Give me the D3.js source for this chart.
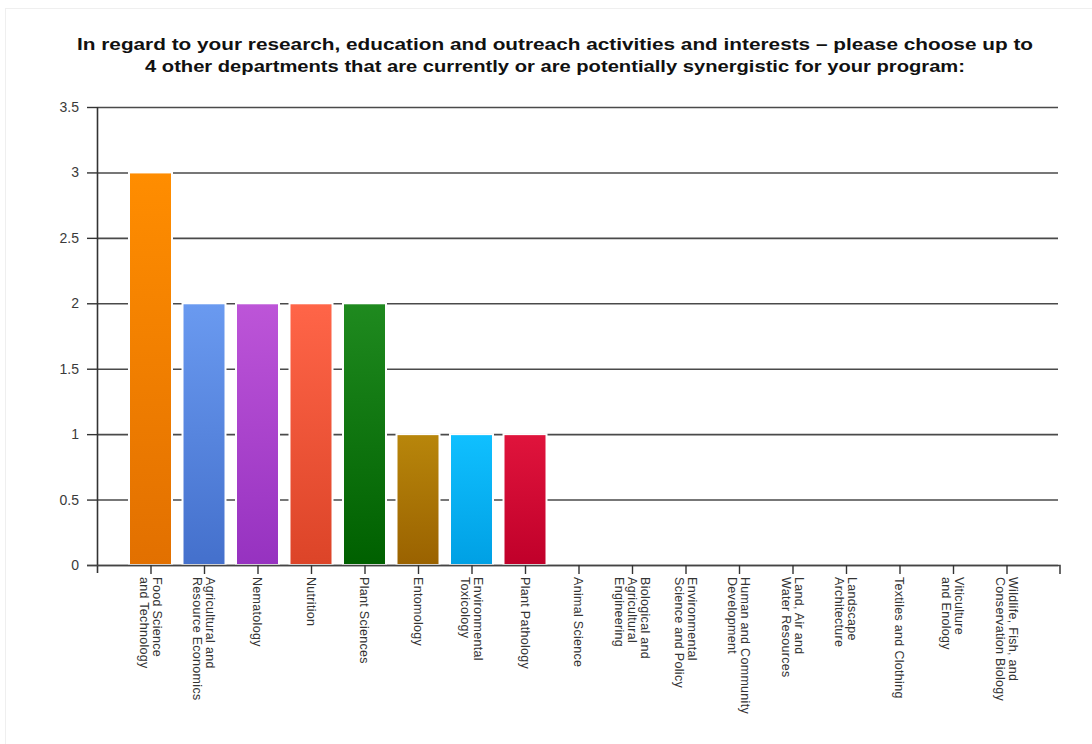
<!DOCTYPE html>
<html>
<head>
<meta charset="utf-8">
<script src="https://cdn.jsdelivr.net/npm/d3@7"></script>
<style>
  html, body { margin: 0; padding: 0; background: #fff; }
  svg { display: block; }
</style>
</head>
<body>
<svg id="chart" width="1092" height="744"></svg>
<script>
// Departments surveyed and number of responses naming each one
const categories = [
  "Food Science and Technology",
  "Agricultural and Resource Economics",
  "Nematology",
  "Nutrition",
  "Plant Sciences",
  "Entomology",
  "Environmental Toxicology",
  "Plant Pathology",
  "Animal Science",
  "Biological and Agricultural Engineering",
  "Environmental Science and Policy",
  "Human and Community Development",
  "Land, Air and Water Resources",
  "Landscape Architecture",
  "Textiles and Clothing",
  "Viticulture and Enology",
  "Wildlife, Fish, and Conservation Biology"
];
const responses = [3, 2, 2, 2, 2, 1, 1, 1, 0, 0, 0, 0, 0, 0, 0, 0, 0];

// Wrapped axis labels, one inner list per department
const tickLabels = [
  ["Food Science", "and Technology"],
  ["Agricultural and", "Resource Economics"],
  ["Nematology"],
  ["Nutrition"],
  ["Plant Sciences"],
  ["Entomology"],
  ["Environmental", "Toxicology"],
  ["Plant Pathology"],
  ["Animal Science"],
  ["Biological and", "Agricultural", "Engineering"],
  ["Environmental", "Science and Policy"],
  ["Human and Community", "Development"],
  ["Land, Air and", "Water Resources"],
  ["Landscape", "Architecture"],
  ["Textiles and Clothing"],
  ["Viticulture", "and Enology"],
  ["Wildlife, Fish, and", "Conservation Biology"]
];
const yTicks = [0, 0.5, 1, 1.5, 2, 2.5, 3, 3.5];
const titleLines = [
  "In regard to your research, education and outreach activities and interests \u2013 please choose up to",
  "4 other departments that are currently or are potentially synergistic for your program:"
];

// Bar fills: [top, bottom] of each vertical gradient
const palette = [
  ["#ff8d00", "#e27000"],
  ["#6a9af0", "#4470cc"],
  ["#bd55d8", "#9632c0"],
  ["#ff6548", "#dc4428"],
  ["#1f8a1f", "#006000"],
  ["#b8860b", "#9a6200"],
  ["#10c0ff", "#00a0e4"],
  ["#e0143c", "#c0002a"]
];

const svg = d3.select("#chart");
const plotLeft = 97, plotRight = 1060, plotTop = 107, plotBottom = 565;

// faint panel frame
svg.append("rect")
  .attr("x", 5.5).attr("y", 8.5).attr("width", 1100).attr("height", 800)
  .attr("fill", "#fff").attr("stroke", "#efefef").attr("stroke-width", 1);

const x = d3.scalePoint().domain(categories).range([plotLeft, plotRight]).padding(1);
const y = d3.scaleLinear().domain([0, 3.5]).range([plotBottom, plotTop]);
const barW = 43;

// title, stretched to the width of the plot header
const titleWidths = [956, 820];
svg.append("g").selectAll("text").data(titleLines).join("text")
  .attr("x", 555).attr("y", (d, i) => 50 + i * 21.5)
  .attr("text-anchor", "middle")
  .attr("font-family", "Liberation Sans, Arial, sans-serif")
  .attr("font-weight", "bold").attr("font-size", 16.5)
  .attr("textLength", (d, i) => titleWidths[i])
  .attr("lengthAdjust", "spacingAndGlyphs")
  .attr("fill", "#111")
  .text(d => d);

// gradients
const defs = svg.append("defs");
palette.forEach((c, i) => {
  const g = defs.append("linearGradient").attr("id", "grad" + i)
    .attr("x1", 0).attr("y1", 0).attr("x2", 0).attr("y2", 1);
  g.append("stop").attr("offset", "0%").attr("stop-color", c[0]);
  g.append("stop").attr("offset", "100%").attr("stop-color", c[1]);
});

// horizontal grid
svg.append("g")
  .attr("transform", `translate(${plotLeft},0)`)
  .call(d3.axisRight(y).tickValues(yTicks).tickSize(plotRight - plotLeft - 2).tickFormat(""))
  .call(g => g.select(".domain").remove())
  .call(g => g.selectAll(".tick line").attr("stroke", "#4a4a4a").attr("stroke-width", 1.6));

// y axis
svg.append("g")
  .attr("transform", `translate(${plotLeft},0)`)
  .call(d3.axisLeft(y).tickValues(yTicks).tickSize(10).tickPadding(8).tickFormat(d3.format("")))
  .call(g => g.select(".domain").attr("d", `M0.5,${plotTop}V${plotBottom + 8}`).attr("stroke", "#333").attr("stroke-width", 1.6))
  .call(g => g.selectAll(".tick line").attr("stroke", "#333").attr("stroke-width", 1.4))
  .call(g => g.selectAll(".tick text")
    .attr("font-family", "Liberation Sans, Arial, sans-serif")
    .attr("font-size", 14).attr("fill", "#3a3a3a"));

// bars
svg.append("g").selectAll("rect").data(categories).join("rect")
  .attr("x", d => x(d) - barW / 2)
  .attr("y", (d, i) => y(responses[i]))
  .attr("width", barW)
  .attr("height", (d, i) => plotBottom - y(responses[i]))
  .attr("fill", (d, i) => `url(#grad${i % palette.length})`)
  .attr("stroke", "#fff").attr("stroke-width", 2)
  .attr("opacity", (d, i) => responses[i] > 0 ? 1 : 0);

// x axis
const xAxis = svg.append("g")
  .attr("transform", `translate(0,${plotBottom})`)
  .call(d3.axisBottom(x).tickSize(9).tickFormat(""));
xAxis.select(".domain")
  .attr("d", `M${plotLeft - 10},0.5H${plotRight}V9`)
  .attr("stroke", "#444").attr("stroke-width", 1.6);
xAxis.selectAll(".tick line").attr("stroke", "#333").attr("stroke-width", 1.4);

// rotated, wrapped category labels
const lineGap = 13;
const labels = svg.append("g").selectAll("g").data(categories).join("g")
  .attr("transform", d => `translate(${x(d)},${plotBottom + 12}) rotate(90)`);
labels.each(function (d, i) {
  const lines = tickLabels[i];
  const n = lines.length;
  d3.select(this).selectAll("text").data(lines).join("text")
    .attr("x", 0)
    .attr("y", (t, j) => (j - (n - 1) / 2) * lineGap)
    .attr("dy", "0.35em")
    .attr("font-family", "Liberation Sans Narrow, Liberation Sans, Arial, sans-serif")
    .attr("font-size", 12.5)
    .attr("letter-spacing", 0.3)
    .attr("fill", "#333")
    .text(t => t);
});
</script>
</body>
</html>
